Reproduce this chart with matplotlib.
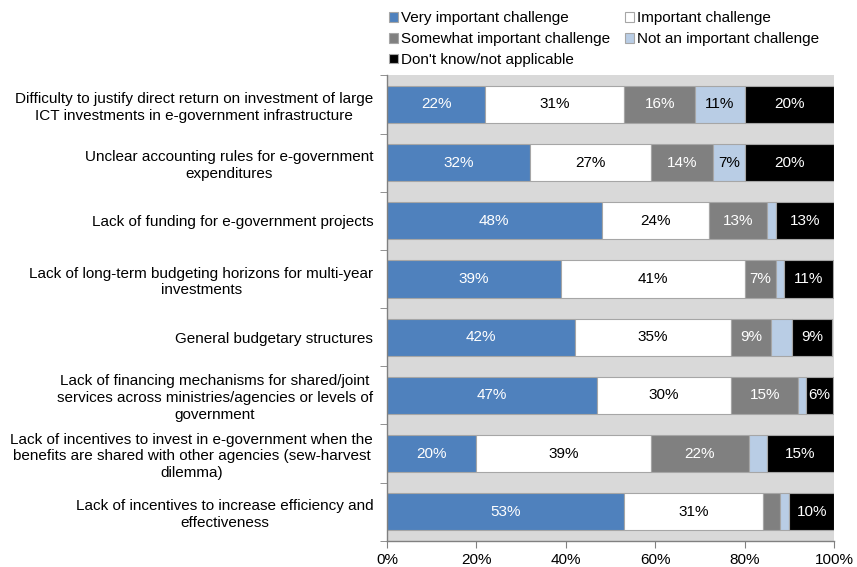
import matplotlib
matplotlib.use("Agg")
import matplotlib.pyplot as plt
import numpy as np

plt.rcParams['font.family'] = ['Liberation Sans', 'DejaVu Sans']

categories = [
    "Difficulty to justify direct return on investment of large\nICT investments in e-government infrastructure",
    "Unclear accounting rules for e-government\nexpenditures",
    "Lack of funding for e-government projects",
    "Lack of long-term budgeting horizons for multi-year\ninvestments",
    "General budgetary structures",
    "Lack of financing mechanisms for shared/joint\nservices across ministries/agencies or levels of\ngovernment",
    "Lack of incentives to invest in e-government when the\nbenefits are shared with other agencies (sew-harvest\ndilemma)",
    "Lack of incentives to increase efficiency and\neffectiveness",
]

series_names = ["Very important challenge", "Important challenge",
                "Somewhat important challenge", "Not an important challenge",
                "Don't know/not applicable"]

very_important = [22, 32, 48, 39, 42, 47, 20, 53]
important = [31, 27, 24, 41, 35, 30, 39, 31]
somewhat = [16, 14, 13, 7, 9, 15, 22, 4]
not_important = [11, 7, 2, 1.7, 4.6, 1.7, 4, 2]
dont_know = [20, 20, 13, 11, 9, 6, 15, 10]

colors = ["#4F81BD", "#FFFFFF", "#808080", "#B9CDE5", "#000000"]
text_colors = ["white", "black", "white", "black", "white"]

data = [very_important, important, somewhat, not_important, dont_know]

fig = plt.figure(figsize=(8.57, 5.67), dpi=100)
ax = fig.add_axes([0.4516, 0.0462, 0.5216, 0.8208])
ax.set_facecolor("#D9D9D9")

y = np.arange(len(categories))
left = np.zeros(len(categories))
handles = []
for vals, col, tcol, name in zip(data, colors, text_colors, series_names):
    vals = np.array(vals, dtype=float)
    bars = ax.barh(y, vals, left=left, height=0.64, color=col,
                   edgecolor="#A6A6A6", linewidth=0.8, label=name)
    handles.append(bars)
    for yi, l, v in zip(y, left, vals):
        if v >= 6:
            ax.text(l + v / 2, yi, f"{v:.0f}%", ha="center", va="center",
                    color=tcol, fontsize=11)
    left += vals

ax.set_xlim(0, 100)
ax.set_ylim(len(categories) - 0.5, -0.5)
ax.set_xticks(np.arange(0, 101, 20))
ax.set_xticklabels([f"{t}%" for t in range(0, 101, 20)], fontsize=11)
ax.set_yticks(y)
ax.set_yticklabels(categories, fontsize=11)
for lab in ax.get_yticklabels():
    lab.set_multialignment("center")
    lab.set_linespacing(1.25)
ax.set_yticks(np.arange(-0.5, len(categories), 1), minor=True)
ax.tick_params(axis="y", which="major", length=0, pad=10)
ax.tick_params(axis="y", which="minor", length=5, color="#808080", direction="out")
ax.tick_params(axis="x", length=5, color="#808080", direction="out", pad=4)

for s in ["top", "right"]:
    ax.spines[s].set_visible(False)
for s in ["left", "bottom"]:
    ax.spines[s].set_color("#808080")
    ax.spines[s].set_linewidth(1.0)

order = [0, 2, 4, 1, 3]
fig.legend([handles[i] for i in order], [series_names[i] for i in order],
           ncol=2, loc="upper left", bbox_to_anchor=(0.441, 0.999),
           frameon=False, fontsize=11, handlelength=0.6, handleheight=0.6,
           handletextpad=0.2, columnspacing=1.0, labelspacing=0.45,
           borderaxespad=0.3)

fig.savefig("out.png", dpi=100)
